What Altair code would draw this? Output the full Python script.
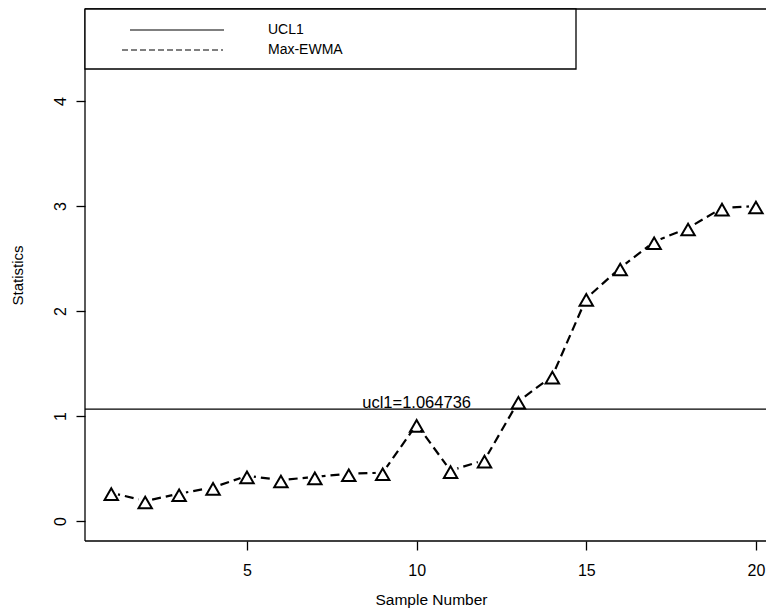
import altair as alt
import pandas as pd

# ---- data ----
sample = list(range(1, 21))
stat = [0.27, 0.19, 0.26, 0.32, 0.43, 0.39, 0.42, 0.45, 0.46, 0.92,
        0.48, 0.58, 1.14, 1.38, 2.12, 2.41, 2.66, 2.79, 2.98, 3.0]
ucl1 = 1.064736
ucl_label = "ucl1=1.064736"
ucl_label_x = 10
legend_labels = ["UCL1", "Max-EWMA"]
x_ticks = [5, 10, 15, 20]
y_ticks = [0, 1, 2, 3, 4]
x_title = "Sample Number"
y_title = "Statistics"

FONT = "Liberation Sans"
W, H = 681, 532
X_DOMAIN = [0.226, 0.226 + W / 33.93]
Y_DOMAIN = [-0.1905, 4.876]

df = pd.DataFrame({"Sample": sample, "Stat": stat})
xs = alt.Scale(domain=X_DOMAIN, nice=False, zero=False)
ys = alt.Scale(domain=Y_DOMAIN, nice=False, zero=False)

x_axis = alt.Axis(values=x_ticks, title=x_title, grid=False, domain=False,
                  labelFont=FONT, titleFont=FONT,
                  labelFontSize=16, titleFontSize=15.5, titleFontWeight="normal",
                  labelColor="black", titleColor="black", tickColor="black", tickWidth=1.3,
                  tickSize=9, labelPadding=12, titleX=346, titleY=63.5,
                  titleBaseline="alphabetic", offset=0, format="d")
y_axis = alt.Axis(values=y_ticks, title=y_title, grid=False, domain=False,
                  labelFont=FONT, titleFont=FONT,
                  labelFontSize=16, titleFontSize=15, titleFontWeight="normal",
                  labelColor="black", titleColor="black", tickColor="black", tickWidth=1.3,
                  tickSize=9, labelAngle=-90,
                  labelAlign="center", labelBaseline="bottom", labelPadding=8,
                  titleX=-68, titleBaseline="middle", offset=0, format="d")

base = alt.Chart(df)
line = base.mark_line(color="black", strokeWidth=2.2, strokeDash=[9, 5]).encode(
    x=alt.X("Sample:Q", scale=xs, axis=x_axis),
    y=alt.Y("Stat:Q", scale=ys, axis=y_axis),
)
gaps = base.mark_circle(color="white", opacity=1, size=200).encode(
    x=alt.X("Sample:Q", scale=xs), y=alt.Y("Stat:Q", scale=ys))
points = base.mark_point(shape="triangle-up", filled=False, color="black", strokeWidth=2,
                         size=180, opacity=1, yOffset=1.5).encode(
    x=alt.X("Sample:Q", scale=xs), y=alt.Y("Stat:Q", scale=ys))

ucl_df = pd.DataFrame({"y": [ucl1], "x": [ucl_label_x], "t": [ucl_label]})
ucl_rule = alt.Chart(ucl_df).mark_rule(color="black", strokeWidth=1.3).encode(
    y=alt.Y("y:Q", scale=ys))
ucl_text = alt.Chart(ucl_df).mark_text(font=FONT, fontSize=16.5, color="black",
                                       baseline="alphabetic", dy=-1).encode(
    x=alt.X("x:Q", scale=xs), y=alt.Y("y:Q", scale=ys), text="t:N")

one = pd.DataFrame({"a": [0]})
top_border = alt.Chart(one).mark_rule(color="black", strokeWidth=1.3).encode(
    x=alt.value(0), x2=alt.value(W), y=alt.value(0))
bottom_border = alt.Chart(one).mark_rule(color="black", strokeWidth=1.3).encode(
    x=alt.value(0), x2=alt.value(W), y=alt.value(H))
left_border = alt.Chart(one).mark_rule(color="black", strokeWidth=1.3).encode(
    x=alt.value(0), y=alt.value(0), y2=alt.value(H))
legend_box = alt.Chart(one).mark_rect(fill="white", stroke="black", strokeWidth=1.3).encode(
    x=alt.value(0), x2=alt.value(491), y=alt.value(0), y2=alt.value(60))
leg_solid = alt.Chart(one).mark_rule(color="black", strokeWidth=1.2).encode(
    x=alt.value(45), x2=alt.value(139), y=alt.value(21))
leg_dash = alt.Chart(one).mark_rule(color="black", strokeWidth=1.1, strokeDash=[6, 3]).encode(
    x=alt.value(37), x2=alt.value(138), y=alt.value(41))
leg_t1 = alt.Chart(one).mark_text(font=FONT, fontSize=14, color="black", align="left",
                                  baseline="middle").encode(
    x=alt.value(183), y=alt.value(21), text=alt.value(legend_labels[0]))
leg_t2 = alt.Chart(one).mark_text(font=FONT, fontSize=14, color="black", align="left",
                                  baseline="middle").encode(
    x=alt.value(183), y=alt.value(41), text=alt.value(legend_labels[1]))

chart = alt.layer(
    line, gaps, points, ucl_rule, ucl_text, top_border, bottom_border, left_border,
    legend_box, leg_solid, leg_dash, leg_t1, leg_t2
).properties(
    width=W, height=H,
    padding={"left": 77, "top": 1, "right": 0, "bottom": 67},
    autosize=alt.AutoSizeParams(type="none"),
    background="white",
).configure_view(stroke=None)

chart.save("out.html", embed_options={"renderer": "svg", "actions": False})
